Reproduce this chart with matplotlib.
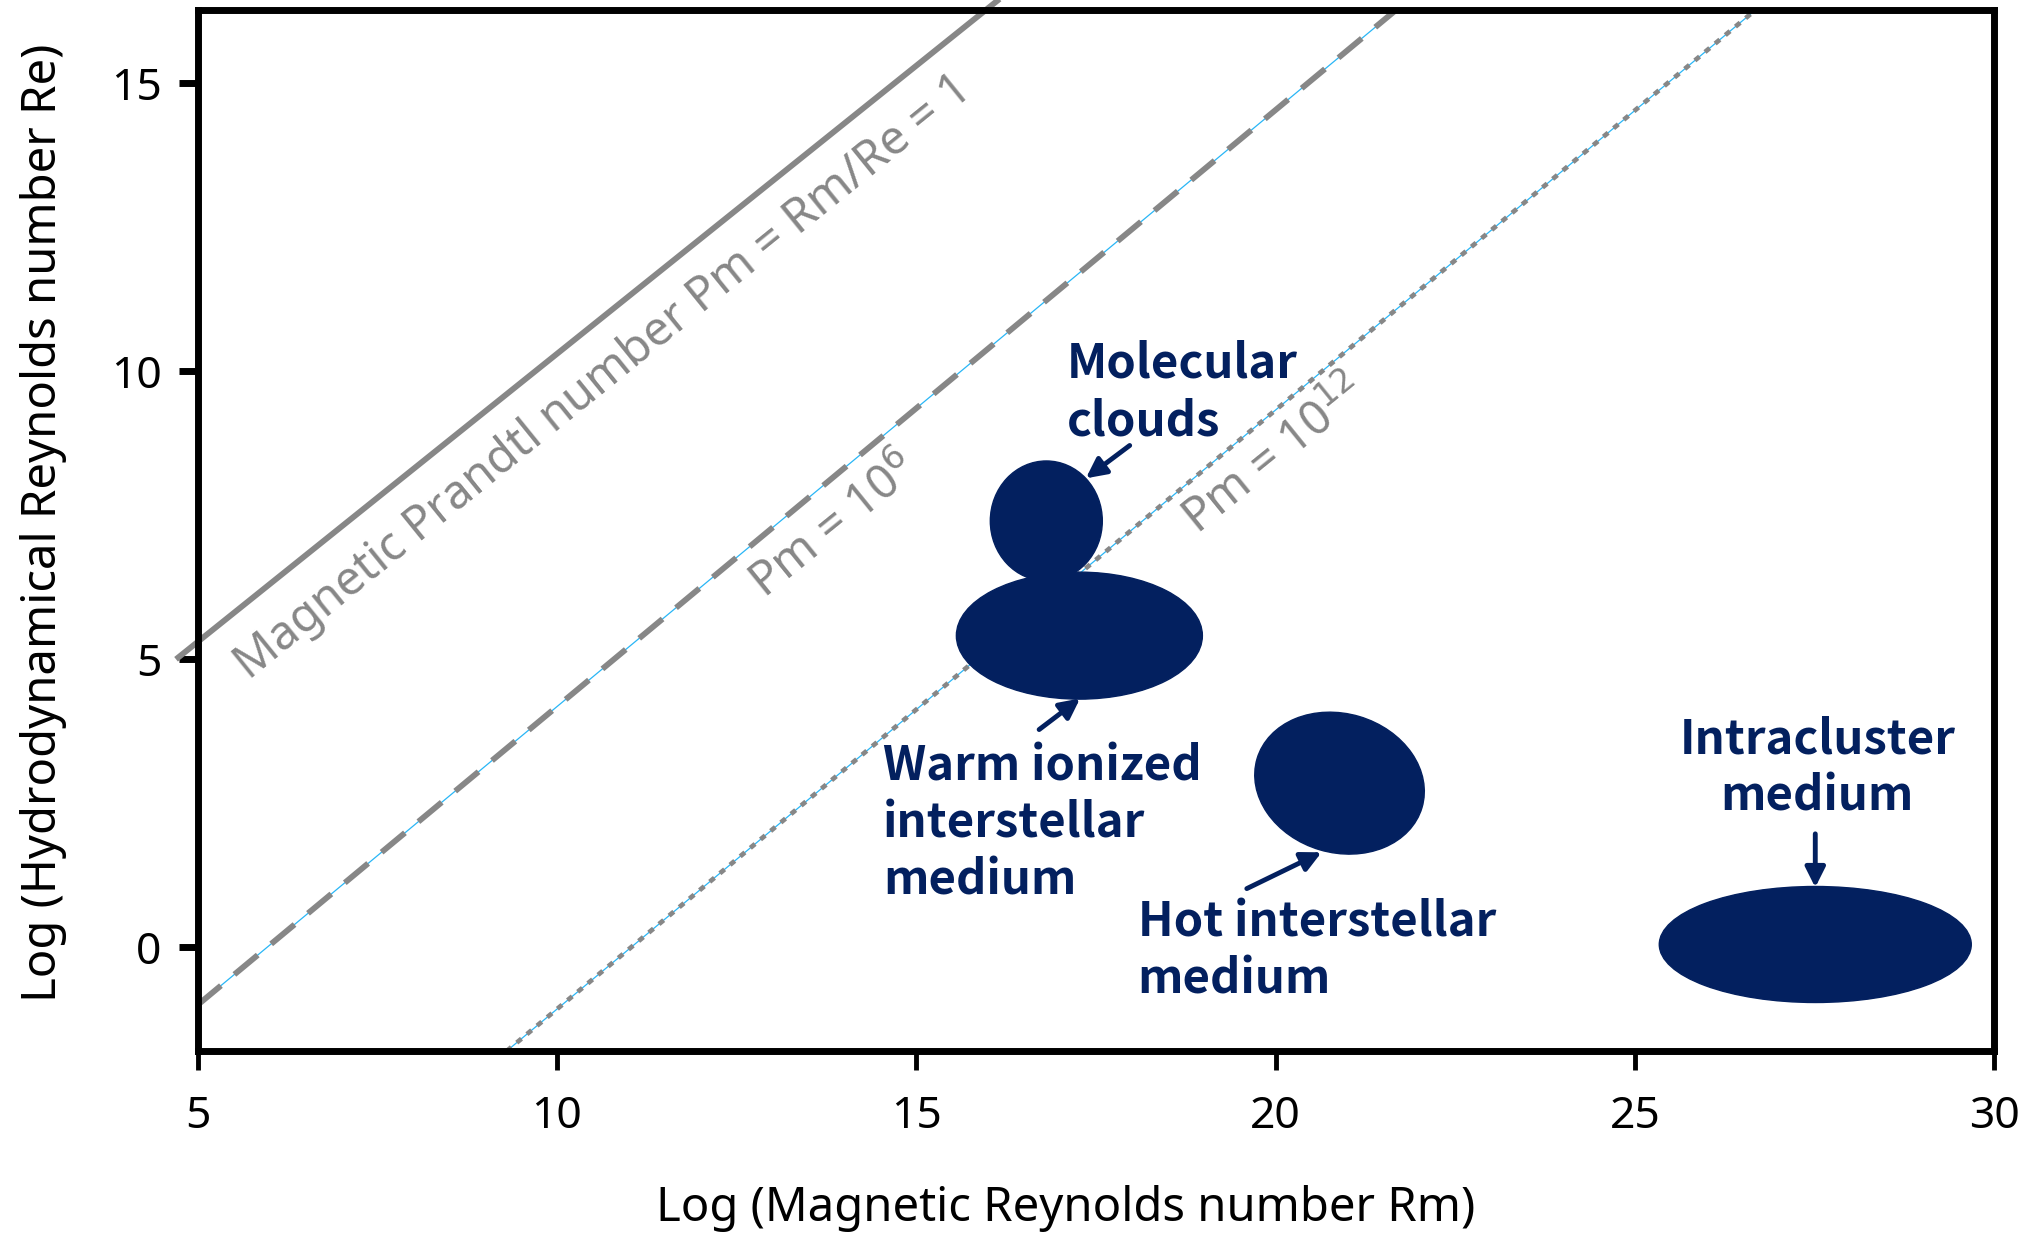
import matplotlib.pyplot as plt
from matplotlib.patches import Ellipse
from matplotlib.transforms import ScaledTranslation

plt.rcParams['font.family'] = ['Noto Sans', 'DejaVu Sans']

NAVY = '#03205f'
GRAY = '#878787'
BLUE = '#29b6f6'

# Pm lines (schematic endpoints)
pm1_x = [4.7, 16.2]
pm1_y = [5.0, 16.5]
pm6_x = [5.0, 21.9]
pm6_y = [-1.0, 16.5]
pm12_x = [9.3, 26.9]
pm12_y = [-1.8, 16.5]

# regions: centre (data), size in inches on the page, tilt in degrees
region_x = [16.81, 17.27, 20.89, 27.51]
region_y = [7.40, 5.41, 2.85, 0.05]
region_w = [1.12, 2.46, 1.72, 3.12]
region_h = [1.20, 1.27, 1.39, 1.16]
region_angle = [0, 0, -16.5, 0]

labels = ['Molecular\nclouds', 'Warm ionized\ninterstellar\nmedium',
          'Hot interstellar\nmedium', 'Intracluster\nmedium']
label_x = [17.10, 14.54, 18.08, 27.54]
label_y = [9.63, 2.15, -0.07, 3.11]
label_ha = ['left', 'left', 'left', 'center']

arrow_start = [(17.97, 8.71), (16.71, 3.78), (19.60, 1.02), (27.51, 1.97)]
arrow_end = [(17.36, 8.14), (17.28, 4.32), (20.64, 1.65), (27.51, 1.04)]

fig = plt.figure(figsize=(20.37, 12.33), dpi=100)
ax = fig.add_axes([0.097, 0.148, 0.882, 0.844])

ax.plot(pm1_x, pm1_y, color=GRAY, lw=4.2, solid_capstyle='butt', clip_on=False, zorder=2)
ax.plot(pm6_x, pm6_y, color=BLUE, lw=0.9, zorder=2)
ax.plot(pm6_x, pm6_y, color=GRAY, lw=4.2, ls=(0, (5.2, 3)), zorder=2)
ax.plot(pm12_x, pm12_y, color=BLUE, lw=0.9, zorder=2)
ax.plot(pm12_x, pm12_y, color=GRAY, lw=3.4, ls=(0, (1.3, 1.5)), zorder=2)

for cx, cy, w, h, a in zip(region_x, region_y, region_w, region_h, region_angle):
    tr = fig.dpi_scale_trans + ScaledTranslation(cx, cy, ax.transData)
    ax.add_patch(Ellipse((0, 0), w, h, angle=a, color=NAVY, transform=tr, zorder=3))

for s, e in zip(arrow_start, arrow_end):
    ax.annotate('', xy=e, xytext=s,
                arrowprops=dict(arrowstyle='-|>', color=NAVY, lw=3.5,
                                mutation_scale=30, shrinkA=0, shrinkB=0),
                zorder=4)

for t, x, y, ha in zip(labels, label_x, label_y, label_ha):
    ax.text(x, y, t, color=NAVY, fontsize=34, fontweight='bold', ha=ha, va='center',
            multialignment=ha, linespacing=1.24, zorder=5,
            family=['Noto Sans CJK KR', 'DejaVu Sans'])

ax.text(10.65, 9.89, 'Magnetic Prandtl number Pm = Rm/Re = 1', color=GRAY, fontsize=34,
        rotation=39, ha='center', va='center', rotation_mode='anchor')
ax.text(13.86, 7.30, r'Pm = 10$^{6}$', color=GRAY, fontsize=34,
        rotation=39, ha='center', va='center', rotation_mode='anchor')
ax.text(19.99, 8.53, r'Pm = 10$^{12}$', color=GRAY, fontsize=34,
        rotation=39, ha='center', va='center', rotation_mode='anchor')

ax.set_xlim(5, 30)
ax.set_ylim(-1.79, 16.27)
ax.set_xticks([5, 10, 15, 20, 25, 30])
ax.set_yticks([0, 5, 10, 15])
for sp in ax.spines.values():
    sp.set_linewidth(5)
ax.tick_params(axis='x', length=14, width=3.5, labelsize=32, pad=18)
ax.tick_params(axis='y', length=14, width=5, labelsize=32, pad=12)
ax.set_xlabel('Log (Magnetic Reynolds number Rm)', fontsize=34, va='center')
ax.set_ylabel('Log (Hydrodynamical Reynolds number Re)', fontsize=34, va='center')
ax.xaxis.set_label_coords(0.483, -0.152)
ax.yaxis.set_label_coords(-0.086, 0.507)

fig.savefig('out.png', dpi=100)
